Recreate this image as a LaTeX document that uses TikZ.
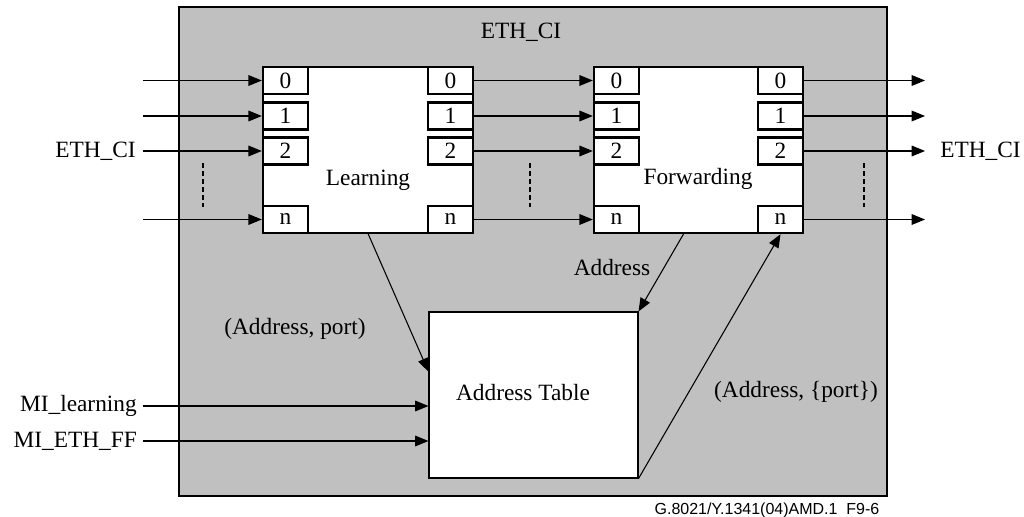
\documentclass[tikz,border=0pt]{standalone}
\usepackage{fontspec}
\setmainfont{Liberation Serif}
\newfontfamily\capfont{Liberation Sans}
\usetikzlibrary{arrows.meta,calc}
\definecolor{panelgray}{HTML}{C0C0C0}
\tikzset{
  arr/.style={draw=black,line width=0.8pt,-{Triangle[length=10pt,width=8pt]}},
  port/.style={draw=black,fill=white,line width=1.8pt,minimum width=33.75pt,minimum height=20.25pt,inner sep=0pt,font=\fontsize{17.5}{20}\selectfont},
  block/.style={draw=black,fill=white,line width=0.8pt,inner sep=0pt},
  lbl/.style={inner sep=0pt,font=\fontsize{17.5}{20}\selectfont},
  dots/.style={draw=black,line width=2pt,dash pattern=on 4pt off 2pt}
}
\begin{document}
\begin{tikzpicture}[x=0.75pt,y=-0.75pt]
\useasboundingbox (0,0) rectangle (1024,517);
% panel
\node[draw=black,fill=panelgray,line width=0.8pt,minimum width=531pt,minimum height=366.75pt,inner sep=0pt] (P) at (533,251.5) {};
\node[lbl] (title) at (521,32) {ETH\_CI};
% blocks
\node[block,minimum width=157.5pt,minimum height=124.5pt] (L) at (368,150) {};
\node[block,minimum width=156.75pt,minimum height=124.5pt] (F) at (698.5,150) {};
\node[block,minimum width=156.75pt,minimum height=124.5pt] (AT) at (533.5,395) {};
\node[lbl] (Ltxt) at (368,180) {Learning};
\node[lbl] (Ftxt) at (698,179) {Forwarding};
\node[lbl] (ATtxt) at (523,393) {Address Table};
% ports
\foreach \n/\y in {0/80.5,1/116,2/151,n/219.5}{
  \node[port] (L\n) at (285.5,\y) {\n};
  \node[port] (Lr\n) at (450.5,\y) {\n};
  \node[port] (F\n) at (616.5,\y) {\n};
  \node[port] (Fr\n) at (780.5,\y) {\n};
  \coordinate (in\n) at (143,\y);
  \coordinate (out\n) at (925,\y);
  \draw[arr] (in\n) -- (L\n.west);
  \draw[arr] (Lr\n.east) -- (F\n.west);
  \draw[arr] (Fr\n.east) -- (out\n);
}
% dotted continuation marks
\coordinate (d1a) at (203,163); \coordinate (d1b) at (203,207);
\coordinate (d2a) at (530,163); \coordinate (d2b) at (530,207);
\coordinate (d3a) at (864,163); \coordinate (d3b) at (864,207);
\draw[dots] (d1a) -- (d1b);
\draw[dots] (d2a) -- (d2b);
\draw[dots] (d3a) -- (d3b);
% side labels
\node[lbl,anchor=east] (ciL) at (136,151) {ETH\_CI};
\node[lbl,anchor=west] (ciR) at (940,151) {ETH\_CI};
% address table connectors
\draw[arr] (L.south) -- ($(AT.north west)!0.36!(AT.south west)$);
\draw[arr] ($(F.south west)!0.43!(F.south east)$) -- (AT.north east);
\draw[arr] (AT.south east) -- (Frn.south);
\coordinate (mil) at (143,406);
\coordinate (mif) at (143,441);
\draw[arr] (mil) -- (mil -| AT.west);
\draw[arr] (mif) -- (mif -| AT.west);
\node[lbl,anchor=east] (milt) at (137,406) {MI\_learning};
\node[lbl,anchor=east] (mift) at (137,441) {MI\_ETH\_FF};
% connector labels
\node[lbl] (apl) at (295,329) {(Address, port)};
\node[lbl] (adl) at (612,268) {Address};
\node[lbl] (apsl) at (796,392) {(Address, \{port\})};
% caption
\node[inner sep=0pt,font=\capfont\fontsize{12}{14}\selectfont] (cap) at (767,510) {G.8021/Y.1341(04)AMD.1\ \ F9-6};
\end{tikzpicture}
\end{document}
